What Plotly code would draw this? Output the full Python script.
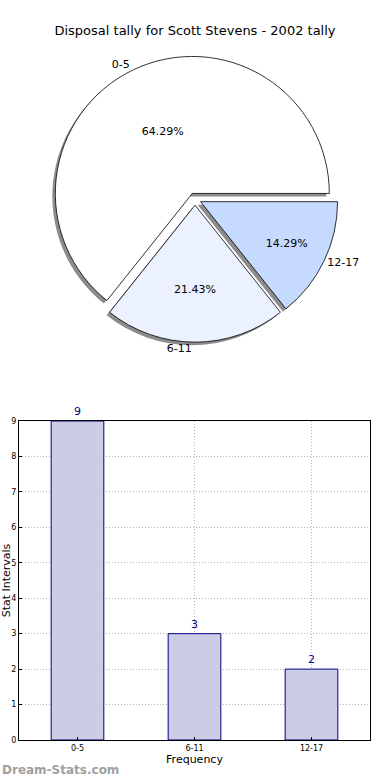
import plotly.graph_objects as go

categories = ["0-5", "6-11", "12-17"]
counts = [9, 3, 2]
pie_colors = ["#ffffff", "#ebf1ff", "#c6d9ff"]
title_text = "Disposal tally for Scott Stevens - 2002 tally"

W, H = 390, 780
font = "DejaVu Sans"

def px_dom(x0, x1, y0, y1):
    return dict(x=[x0 / W, x1 / W], y=[1 - y1 / H, 1 - y0 / H])

# first slice starts at 3 o'clock and runs counterclockwise (matplotlib style)
start_rot = 90 - 360 * counts[0] / sum(counts)

pull = [0.045, 0.045, 0.045]
cx, cy, r = 195, 199, 137
half = r * (1 + max(pull))
main_dom = px_dom(cx - half, cx + half, cy - half, cy + half)
sh = 3
shadow_dom = px_dom(cx - half - sh, cx + half - sh, cy - half + sh, cy + half + sh)

common = dict(labels=categories, values=counts, sort=False, direction="counterclockwise",
              rotation=start_rot, pull=pull, showlegend=False)

fig = go.Figure()

# shadow
fig.add_trace(go.Pie(
    domain=shadow_dom, textinfo="none", hoverinfo="skip",
    marker=dict(colors=["#8c8c8c"] * 3, line=dict(width=0)), **common,
))
# main pie with percentages inside
fig.add_trace(go.Pie(
    domain=main_dom,
    texttemplate="%{percent:.2%}", textposition="inside", insidetextorientation="horizontal",
    textfont=dict(family=font, size=11, color="#000000"),
    marker=dict(colors=pie_colors, line=dict(color="#000000", width=0.8)), **common,
))
# labels outside
fig.add_trace(go.Pie(
    domain=main_dom, textinfo="label", textposition="outside", hoverinfo="skip",
    textfont=dict(family=font, size=11, color="#000000"),
    marker=dict(colors=["rgba(0,0,0,0)"] * 3, line=dict(width=0)), **common,
))

fig.add_trace(go.Bar(
    x=categories, y=counts, width=0.45,
    marker=dict(color="#ccccE4", line=dict(color="#000080", width=1)),
    text=[str(v) for v in counts], textposition="outside",
    textfont=dict(family=font, size=11, color="#000080"), cliponaxis=False,
    xaxis="x", yaxis="y", showlegend=False,
))

axis_common = dict(showline=True, linecolor="#000000", linewidth=1, mirror=True,
                   ticks="inside", ticklen=3, tickcolor="#000000", automargin=False,
                   showgrid=True, gridcolor="#b4b4b4", griddash="1px,2px", gridwidth=1,
                   tickfont=dict(family=font, size=8, color="#000000"), zeroline=False)

fig.update_layout(
    width=W, height=H, margin=dict(l=0, r=0, t=0, b=0),
    paper_bgcolor="#ffffff", plot_bgcolor="#ffffff",
    font=dict(family=font, color="#000000"),
    title=dict(text=title_text, x=0.5, xanchor="center", y=1 - 30 / H, yanchor="middle",
               font=dict(family=font, size=13, color="#000000")),
    xaxis=dict(domain=[19 / W, 370 / W], anchor="y", range=[-0.5, 2.5],
               title=dict(text="Frequency", font=dict(family=font, size=11), standoff=2),
               **axis_common),
    yaxis=dict(domain=[1 - 740 / H, 1 - 421 / H], anchor="x", range=[0, 9], dtick=1,
               title=dict(text="Stat Intervals", font=dict(family=font, size=11), standoff=2),
               **axis_common),
    annotations=[dict(text="<b>Dream-Stats.com</b>", xref="paper", yref="paper",
                      x=0, y=1 - 770 / H, xanchor="left", yanchor="middle",
                      showarrow=False, font=dict(family=font, size=12, color="#a0a0a0"))],
)

fig.write_html("out.html", config={"displayModeBar": False},
               post_script="document.body.style.margin='0px';")
